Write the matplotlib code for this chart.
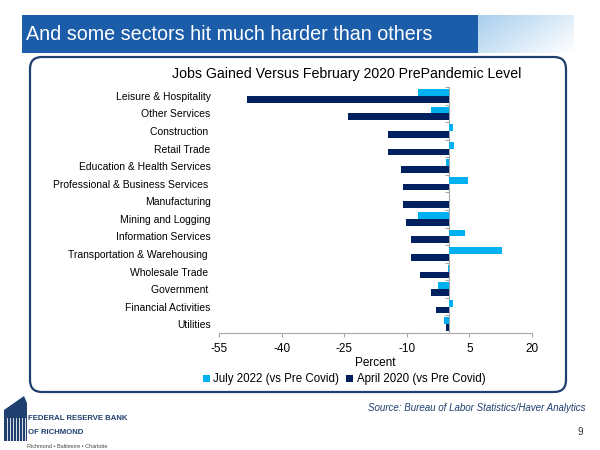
import numpy as np
import matplotlib
matplotlib.use("Agg")
import matplotlib.pyplot as plt
from matplotlib.patches import FancyBboxPatch, Rectangle, Polygon
from matplotlib.colors import LinearSegmentedColormap

plt.rcParams['font.family'] = ['Liberation Sans', 'DejaVu Sans']

categories = ["Leisure & Hospitality", "Other Services", "Construction ", "Retail Trade",
              "Education & Health Services", "Professional & Business Services ",
              "Manufacturing", "Mining and Logging", "Information Services",
              "Transportation & Warehousing ", "Wholesale Trade ", "Government ",
              "Financial Activities", "Utilities"]
july_2022 = [-7.2, -4.3, 1.1, 1.4, -0.5, 4.6, 0.2, -7.4, 4.0, 12.9, -0.2, -2.6, 1.1, -1.0]
april_2020 = [-48.4, -24.2, -14.6, -14.4, -11.5, -10.8, -10.8, -10.3, -9.1, -8.9, -6.9, -4.3, -3.1, -0.7]
xticks = [-55, -40, -25, -10, 5, 20]

LIGHT = "#00b0f0"
DARK = "#002060"
NAVY = "#1f3f6e"
BAR_BLUE = "#1c5daa"
GRAY = "#a6a6a6"

fig = plt.figure(figsize=(6, 4.5), dpi=100)

# background / decoration axes in pixel coordinates
bg = fig.add_axes([0, 0, 1, 1])
bg.axis("off")

bg.add_patch(Rectangle((22, 15), 456, 38, facecolor=BAR_BLUE, edgecolor="none"))
grad = np.linspace(0, 1, 100)[None, :] * np.ones((20, 1))
vert = np.linspace(0, 1, 20)[:, None]
img = np.clip(0.6 * grad + 0.35 * vert, 0, 1)
cmap = LinearSegmentedColormap.from_list("g", ["#a9cfee", "#ffffff"])
bg.imshow(img, cmap=cmap, extent=(478, 574, 53, 15), aspect="auto", zorder=1)
bg.set_xlim(0, 600)
bg.set_ylim(450, 0)
bg.text(26, 35, "And some sectors hit much harder than others", color="white",
        fontsize=14.2, va="center", ha="left", zorder=3)

bg.add_patch(FancyBboxPatch((30, 57), 536, 335,
                            boxstyle="round,pad=0,rounding_size=12",
                            facecolor="white", edgecolor=NAVY, linewidth=1.6, zorder=2))

bg.text(347, 74, "Jobs Gained Versus February 2020 PrePandemic Level", fontsize=10.2,
        ha="center", va="center", zorder=3)

bg.text(585, 408, "Source: Bureau of Labor Statistics/Haver Analytics", color=NAVY,
        fontsize=7, style="italic", ha="right", va="center")
bg.text(583, 432, "9", color="#333333", fontsize=7, ha="right", va="center")

# logo
bg.add_patch(Polygon([(4, 441), (4, 410), (24, 396), (27, 403), (27, 441)],
                     closed=True, facecolor=NAVY, edgecolor="none"))
for xx in np.arange(7, 27, 3):
    bg.plot([xx, xx], [418, 441], color="white", lw=0.6)
bg.text(28, 419, "FEDERAL RESERVE BANK", color=NAVY, fontsize=5.6, fontweight="bold",
        ha="left", va="center")
bg.text(28, 432, "OF RICHMOND", color=NAVY, fontsize=5.6, fontweight="bold",
        ha="left", va="center")
bg.text(27, 446, "Richmond \u2022 Baltimore \u2022 Charlotte", color="#444444",
        fontsize=4.0, ha="left", va="center")

# chart axes
ax = fig.add_axes([219 / 600, 1 - 333 / 450, (532 - 219) / 600, (333 - 87) / 450])
ax.set_facecolor("none")
y = np.arange(len(categories))
h = 0.39
ax.barh(y - h / 2, july_2022, height=h, color=LIGHT, label="July 2022 (vs Pre Covid)")
ax.barh(y + h / 2, april_2020, height=h, color=DARK, label="April 2020 (vs Pre Covid)")
ax.set_xlim(xticks[0], xticks[-1])
ax.set_ylim(len(categories) - 0.5, -0.5)
ax.set_xticks(xticks)
ax.set_xticklabels([str(t) for t in xticks], fontsize=8.5)
ax.set_yticks(y)
ax.set_yticklabels(categories, fontsize=7.5)
ax.tick_params(axis="y", length=0, pad=6)
ax.tick_params(axis="x", length=3, color=GRAY, pad=4)
for s in ["top", "right", "left"]:
    ax.spines[s].set_visible(False)
ax.spines["bottom"].set_color(GRAY)

zero_pos = (0 - xticks[0]) / (xticks[-1] - xticks[0])
sec = ax.secondary_yaxis(zero_pos)
sec.set_yticks(np.arange(len(categories) + 1) - 0.5)
sec.set_yticklabels([])
sec.tick_params(length=3, color=GRAY, direction="in")
for s in sec.spines.values():
    s.set_color(GRAY)

ax.set_xlabel("Percent", fontsize=8.5, labelpad=2)

leg = ax.legend(loc="upper center", bbox_to_anchor=(0.40, -0.145), ncol=2, frameon=False,
                fontsize=8.3, handlelength=0.6, handleheight=0.6, handletextpad=0.3,
                columnspacing=0.6, borderaxespad=0)

fig.savefig("out.png", dpi=100)
